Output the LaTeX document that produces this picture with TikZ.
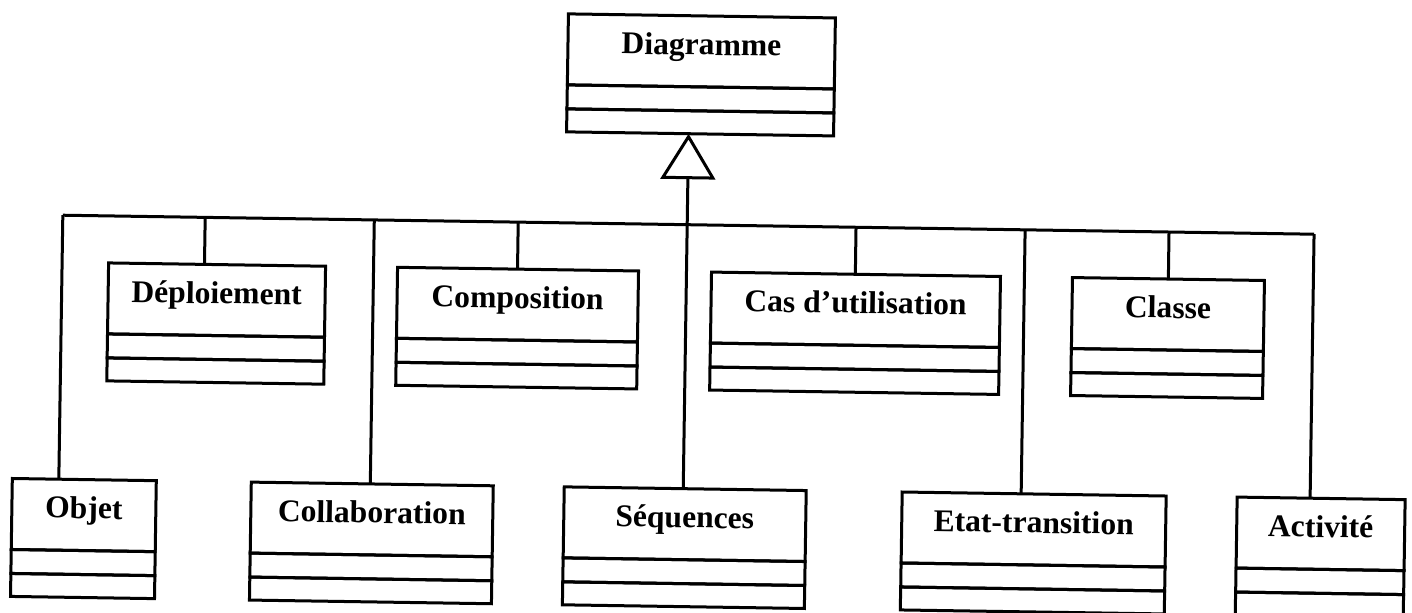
\documentclass[tikz,border=0pt]{standalone}
\usepackage{fontspec}
\setmainfont{Liberation Serif}
\usetikzlibrary{calc}

% UML class box: name compartment (id), attribute compartment (id-a),
% operation compartment (id-o), stacked under each other.
% #1 id, #2 left x, #3 top y, #4 width (pt), #5 class name
\newcommand\umlclass[5]{%
  \node[clsname, anchor=north west, minimum width=#4] (#1) at (#2,#3) {#5};
  \node[clspart, minimum width=#4, minimum height=12pt] (#1-a) at (#1.south) {};
  \node[clspart, minimum width=#4, minimum height=11.5pt] (#1-o) at (#1-a.south) {};
}

\tikzset{
  uml/.style={draw, line width=1.5pt, inner sep=0pt, outer sep=0pt,
    transform shape},
  clsname/.style={uml, minimum height=35.5pt,
    font=\bfseries\fontsize{15.8pt}{18pt}\selectfont,
    text height=3.5pt, text depth=0pt},
  clspart/.style={uml, anchor=north},
  link/.style={line width=1.5pt},
}

\begin{document}
\begin{tikzpicture}[x=0.5pt, y=-0.5pt, line join=miter]
\useasboundingbox (0,0) rectangle (1412,612);
\fill[white] (0,0) rectangle (1412,612);

\begin{scope}[rotate around={-0.87:(706,306)}]
  % classes
  \umlclass{diag}{564}{16}{133.5pt}{Diagramme}

  \umlclass{dep}{108}{272}{108.5pt}{Déploiement}
  \umlclass{comp}{397}{272}{120.5pt}{Composition}
  \umlclass{cas}{711}{272}{144.5pt}{Cas d’utilisation}
  \umlclass{cls}{1072}{272}{96pt}{Classe}

  \umlclass{obj}{15}{489}{72pt}{Objet}
  \umlclass{col}{254}{489}{121pt}{Collaboration}
  \umlclass{seq}{567}{489}{121pt}{Séquences}
  \umlclass{etat}{905}{489}{132pt}{Etat-transition}
  \umlclass{act}{1240}{489}{84pt}{Activité}

  % attachment points on the top edge of each subclass
  \coordinate (obj-t)  at ($(obj.north west)!0.323!(obj.north east)$);
  \coordinate (dep-t)  at ($(dep.north west)!0.442!(dep.north east)$);
  \coordinate (col-t)  at ($(col.north west)!0.492!(col.north east)$);
  \coordinate (comp-t) at ($(comp.north west)!0.498!(comp.north east)$);
  \coordinate (seq-t)  at ($(seq.north west)!0.492!(seq.north east)$);
  \coordinate (cas-t)  at ($(cas.north west)!0.498!(cas.north east)$);
  \coordinate (etat-t) at ($(etat.north west)!0.451!(etat.north east)$);
  \coordinate (cls-t)  at ($(cls.north west)!0.5!(cls.north east)$);
  \coordinate (act-t)  at ($(act.north west)!0.435!(act.north east)$);

  % horizontal bus line and its junctions
  \coordinate (b1) at (0,225);
  \coordinate (b2) at (1412,225);
  \foreach \c in {obj,dep,col,comp,cas,etat,cls,act}
    \coordinate (\c-j) at ($(b1)!(\c-t)!(b2)$);

  \draw[link] (obj-j) -- (act-j);
  \foreach \c in {obj,dep,col,comp,cas,etat,cls,act}
    \draw[link] (\c-j) -- (\c-t);

  % generalization towards Diagramme: hollow triangle under the superclass
  \coordinate (diag-tip) at ($(diag-o.south west)!(seq-t)!(diag-o.south east)$);
  \coordinate (tri-apex) at ($(diag-tip)!1.5pt!(seq-t)$);
  \coordinate (tri-base) at ($(diag-tip)!22pt!(seq-t)$);
  \coordinate (tri-l) at ($(tri-base)!12.5pt!-90:(tri-apex)$);
  \coordinate (tri-r) at ($(tri-base)!12.5pt!90:(tri-apex)$);
  \draw[link] (seq-t) -- (tri-base);
  \draw[link] (tri-apex) -- (tri-l) -- (tri-r) -- cycle;
\end{scope}
\end{tikzpicture}
\end{document}
